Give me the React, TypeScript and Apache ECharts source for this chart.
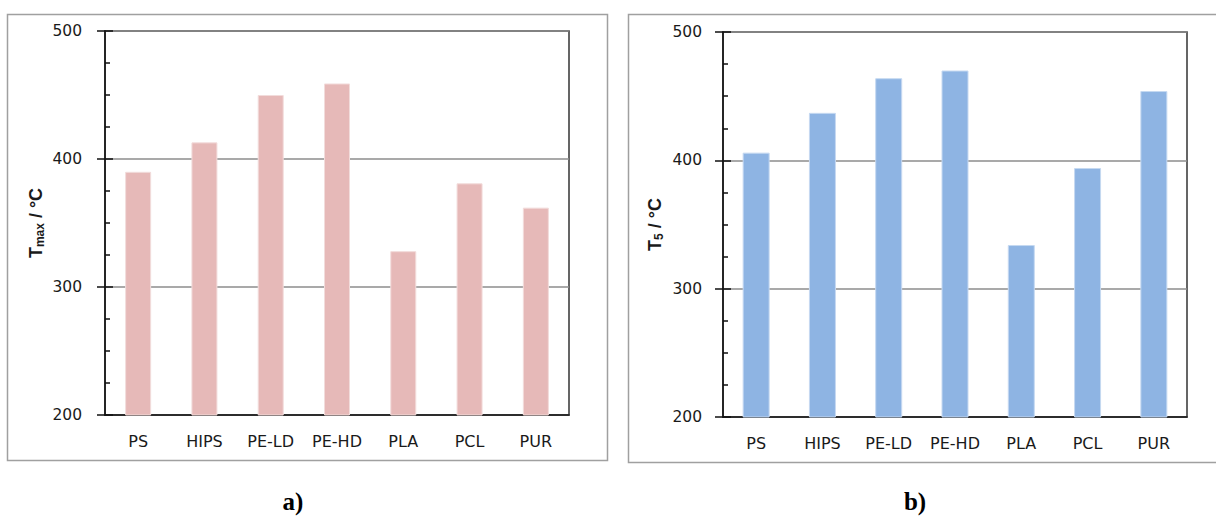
import React, { useEffect, useRef } from "react";
import * as echarts from "echarts";

const categories = ["PS", "HIPS", "PE-LD", "PE-HD", "PLA", "PCL", "PUR"];
const tmaxValues = [390, 413, 450, 459, 328, 381, 362];
const t5Values = [406, 437, 464, 470, 334, 394, 454];
const yMin = 200;
const yMax = 500;
const yInterval = 100;
const panelLabels = ["a)", "b)"];

const TEXT = "#1a1a1a";
const LABEL_FONT = "DejaVu Sans";

function makeYAxes(gridIndex: number, nameParts: [string, string], nameGap: number, labelMargin: number) {
  return [
    {
      type: "value",
      gridIndex,
      min: yMin,
      max: yMax,
      interval: yInterval,
      name: `{main|${nameParts[0]}}{sub|${nameParts[1]}}{main| / °C}`,
      nameLocation: "middle",
      nameGap,
      nameRotate: 90,
      nameTextStyle: {
        rich: {
          main: { fontFamily: "Liberation Sans", fontWeight: "bold", fontSize: 18, color: TEXT, lineHeight: 21 },
          sub: { fontFamily: "Liberation Sans", fontWeight: "bold", fontSize: 12, color: TEXT, verticalAlign: "bottom", lineHeight: 13 },
        },
      },
      axisLine: { show: true, lineStyle: { color: "#111", width: 1.5 } },
      axisTick: { show: true, inside: false, length: 8, lineStyle: { color: "#111", width: 1.5 } },
      minorTick: { show: false },
      axisLabel: { color: TEXT, fontFamily: LABEL_FONT, fontSize: 15.5, margin: labelMargin },
      splitLine: { show: true, lineStyle: { color: "#8c8c8c", width: 1.5 } },
    },
    {
      type: "value",
      gridIndex,
      min: yMin,
      max: yMax,
      interval: yInterval,
      position: "left",
      axisLine: { show: false },
      axisTick: { show: true, inside: true, length: 8, lineStyle: { color: "#111", width: 1.5 } },
      minorTick: { show: true, splitNumber: 4, length: 5, lineStyle: { color: "#111", width: 1.5 } },
      axisLabel: { show: false },
      splitLine: { show: false },
    },
  ];
}

function makeXAxis(gridIndex: number) {
  return {
    type: "category",
    gridIndex,
    data: categories,
    axisLine: { show: true, lineStyle: { color: "#111", width: 1.5 } },
    axisTick: { show: false },
    axisLabel: { color: TEXT, fontFamily: LABEL_FONT, fontSize: 16, margin: 18, interval: 0 },
    splitLine: { show: false },
  };
}

export default function App() {
  const ref = useRef<HTMLDivElement>(null);
  useEffect(() => {
    if (!ref.current) return;
    const chart = echarts.init(ref.current, undefined, { renderer: "svg" });
    chart.setOption({
      animation: false,
      backgroundColor: "#ffffff",
      grid: [
        { left: 105, top: 31, width: 464, height: 384, show: true, borderColor: "#333", borderWidth: 1.5, backgroundColor: "transparent" },
        { left: 723, top: 32, width: 464, height: 385, show: true, borderColor: "#333", borderWidth: 1.5, backgroundColor: "transparent" },
      ],
      xAxis: [makeXAxis(0), makeXAxis(1)],
      yAxis: [
        ...makeYAxes(0, ["T", "max"], 59, 23),
        ...makeYAxes(1, ["T", "5"], 58, 21),
      ],
      series: [
        {
          type: "bar",
          xAxisIndex: 0,
          yAxisIndex: 0,
          data: tmaxValues,
          barWidth: 26,
          itemStyle: { color: "#e6b9b8", borderColor: "#f2dcdb", borderWidth: 1 },
        },
        {
          type: "bar",
          xAxisIndex: 1,
          yAxisIndex: 2,
          data: t5Values,
          barWidth: 27,
          itemStyle: { color: "#8eb4e3", borderColor: "#c6d9f1", borderWidth: 1 },
        },
      ],
      graphic: [
        { type: "rect", shape: { x: 7.5, y: 14.5, width: 600, height: 446 }, style: { fill: "none", stroke: "#a0a0a0", lineWidth: 1.5 }, z: -10 },
        { type: "rect", shape: { x: 628.5, y: 14.5, width: 600, height: 448 }, style: { fill: "none", stroke: "#a0a0a0", lineWidth: 1.5 }, z: -10 },
        { type: "text", x: 293, y: 501, style: { text: panelLabels[0], font: "bold 25px 'Liberation Serif'", fill: "#000", align: "center", verticalAlign: "middle" } },
        { type: "text", x: 915, y: 501, style: { text: panelLabels[1], font: "bold 25px 'Liberation Serif'", fill: "#000", align: "center", verticalAlign: "middle" } },
      ],
    });
    return () => chart.dispose();
  }, []);
  return <div ref={ref} style={{ position: "absolute", left: 0, top: 0, width: 1216, height: 518 }} />;
}
